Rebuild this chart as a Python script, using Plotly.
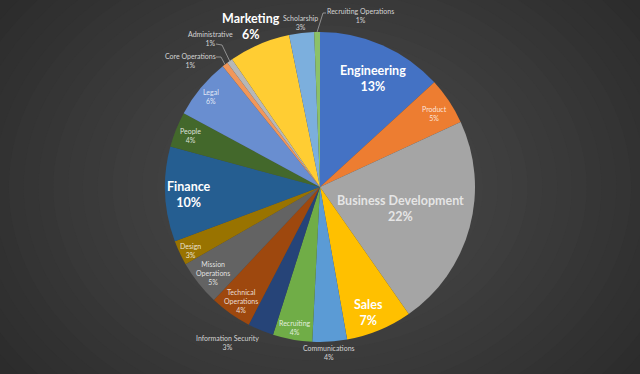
import math
import plotly.graph_objects as go

# ---------------- data ----------------
departments = [
    "Engineering", "Product", "Business Development", "Sales", "Communications",
    "Recruiting", "Information Security", "Technical Operations", "Mission Operations",
    "Design", "Finance", "People", "Legal", "Core Operations", "Administrative",
    "Marketing", "Scholarship", "Recruiting Operations",
]
shares = [13.2, 4.9, 22.2, 6.9, 3.6, 4.1, 2.7, 4.4, 4.7, 2.6, 9.9, 3.7, 6.3, 0.6, 0.6, 6.4, 2.6, 0.6]
label_text = [
    "Engineering", "Product", "Business Development", "Sales", "Communications",
    "Recruiting", "Information Security", "Technical<br>Operations", "Mission<br>Operations",
    "Design", "Finance", "People", "Legal", "Core Operations", "Administrative",
    "Marketing", "Scholarship", "Recruiting Operations",
]

# ---------------- styles ----------------
colors = [
    "#4472C4", "#ED7D31", "#A5A5A5", "#FFC000", "#5B9BD5", "#70AD47", "#264478",
    "#9E480E", "#636363", "#997300", "#255E91", "#43682B", "#698ED0", "#F1975A",
    "#B7B7B7", "#FFCD33", "#7CAFDD", "#8CC168",
]
big = {"Engineering", "Business Development", "Sales", "Finance", "Marketing"}
# label centre positions in pixels (text only)
label_px = {
    "Engineering": (373, 79), "Product": (434, 113), "Business Development": (400, 208),
    "Sales": (368, 312), "Communications": (329, 352), "Recruiting": (295, 327),
    "Information Security": (227, 342), "Technical Operations": (241, 301),
    "Mission Operations": (213, 273), "Design": (190, 250), "Finance": (189, 194),
    "People": (190, 135), "Legal": (211, 97), "Core Operations": (190, 61),
    "Administrative": (210, 39), "Marketing": (251, 26), "Scholarship": (300, 22),
    "Recruiting Operations": (360, 16),
}
outside = {"Communications", "Information Security", "Core Operations",
           "Administrative", "Marketing", "Scholarship", "Recruiting Operations"}
# leader line end points (px) near the text
leaders = {
    "Recruiting Operations": [(326, 13), (323, 13)],
    "Administrative": [(216, 44), (222, 45)],
    "Core Operations": [(216, 57), (221, 57)],
}

W, H = 640, 374
CX, CY, R = 320, 187, 155
FONT = "Lato"


def px(x, y):
    return x / W, 1 - y / H


fig = go.Figure()
fig.add_trace(go.Pie(
    labels=departments, values=shares, sort=False, direction="clockwise", rotation=0,
    marker=dict(colors=colors, line=dict(width=0)), textinfo="none", hoverinfo="label+percent",
    domain=dict(x=[(CX - R) / W, (CX + R) / W], y=[1 - (CY + R) / H, 1 - (CY - R) / H]),
    showlegend=False,
))

total = sum(shares)
annotations = []
shapes = []

# background radial gradient
N = 26
outer = (44, 44, 44)
inner = (76, 76, 76)
for i in range(N):
    t = i / (N - 1)
    r = 400 * (1 - t) + 30 * t
    c = tuple(int(round(outer[k] + (inner[k] - outer[k]) * t)) for k in range(3))
    x0, y0 = px(CX - r, CY - r * 0.78)
    x1, y1 = px(CX + r, CY + r * 0.78)
    shapes.append(dict(type="circle", xref="paper", yref="paper", x0=x0, x1=x1, y0=y1, y1=y0,
                       fillcolor="rgb(%d,%d,%d)" % c, line=dict(width=0), layer="below"))

cum = 0
for name, txt, v in zip(departments, label_text, shares):
    mid = (cum + v / 2) / total * 2 * math.pi
    cum += v
    pct = "%d%%" % round(v / total * 100)
    lx, ly = label_px[name]
    if name in big:
        size, color = 12.5, ("rgba(255,255,255,0.72)" if name == "Business Development" else "white")
        text = "<b>%s<br>%s</b>" % (txt, pct)
    else:
        size = 7
        color = "#d4d4d4" if name in outside else "rgba(255,255,255,0.82)"
        text = "%s<br>%s" % (txt, pct)
    xa, ya = px(lx, ly)
    annotations.append(dict(x=xa, y=ya, xref="paper", yref="paper", text=text, showarrow=False,
                            font=dict(family=FONT, size=size, color=color), align="center",
                            xanchor="center", yanchor="middle"))
    if name in leaders:
        rim = (CX + R * math.sin(mid), CY - R * math.cos(mid))
        pts = leaders[name] + [rim]
        for (ax, ay), (bx, by) in zip(pts[:-1], pts[1:]):
            x0, y0 = px(ax, ay)
            x1, y1 = px(bx, by)
            shapes.append(dict(type="line", xref="paper", yref="paper", x0=x0, y0=y0, x1=x1, y1=y1,
                               line=dict(color="#a6a6a6", width=0.8)))

fig.update_layout(
    width=W, height=H, margin=dict(l=0, r=0, t=0, b=0),
    paper_bgcolor="#2c2c2c", plot_bgcolor="#2c2c2c",
    annotations=annotations, shapes=shapes,
)
fig.write_html(
    "out.html",
    config={"displayModeBar": False},
    post_script="document.body.style.margin='0';document.body.style.background='#2c2c2c';"
                "document.body.style.overflow='hidden';",
)
